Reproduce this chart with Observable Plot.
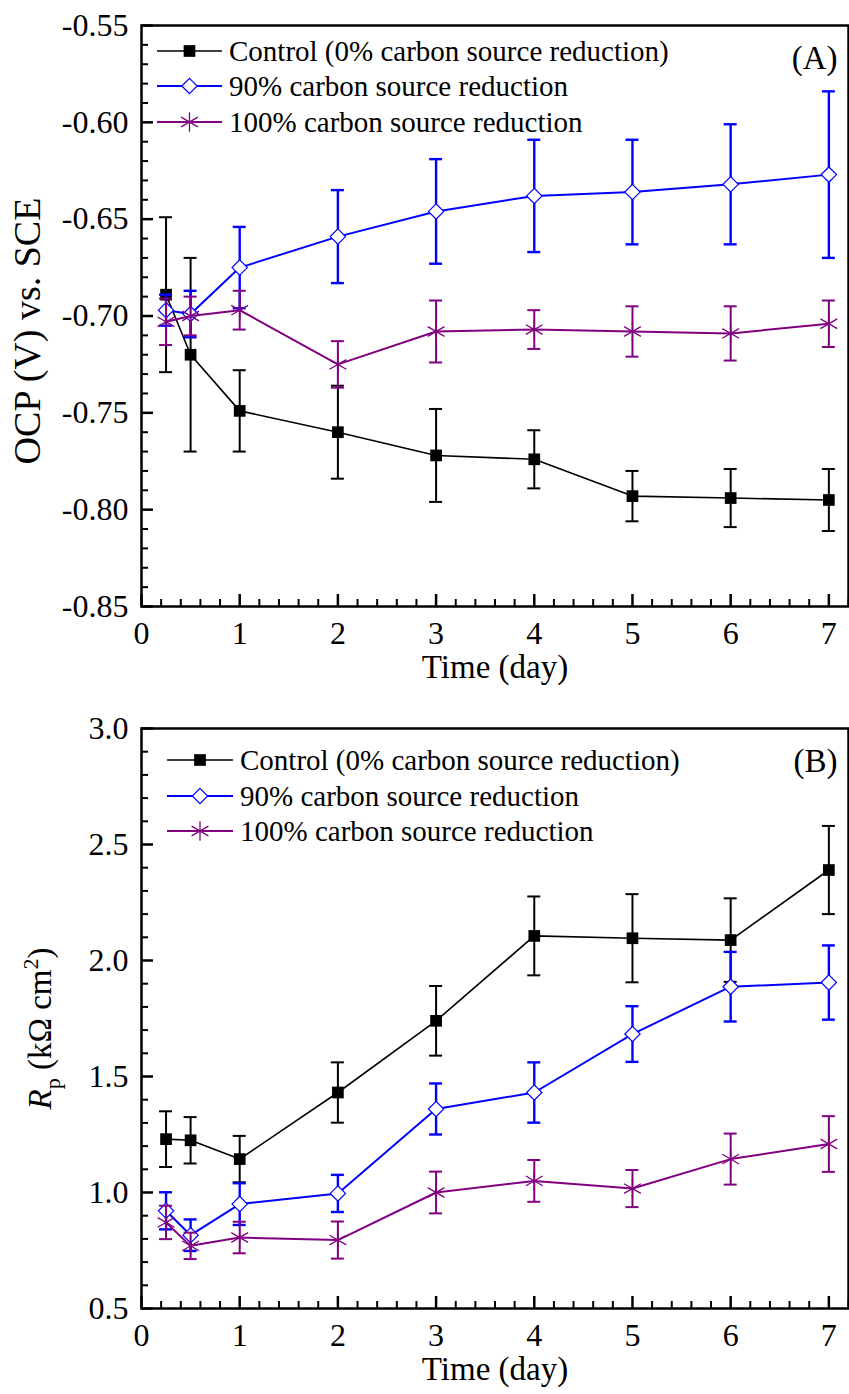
<!DOCTYPE html>
<html><head><meta charset="utf-8">
<script src="https://cdn.jsdelivr.net/npm/d3@7"></script>
<script src="https://cdn.jsdelivr.net/npm/@observablehq/plot@0.6"></script>
<style>
body{margin:0;background:#fff;}
#wrap{position:relative;width:849px;font-family:"Liberation Serif","Times New Roman",serif;color:#000;}
#wrap svg.plot{display:block;}
#wrap svg text{font-family:"Liberation Serif","Times New Roman",serif;}
.leg{position:absolute;display:flex;align-items:center;font-size:29px;white-space:nowrap;height:36px;line-height:36px;}
</style></head><body><div id="wrap"></div>
<script>
// ---------- data ----------
const days = [0.25, 0.5, 1, 2, 3, 4, 5, 6, 7];
const seriesNames = ["Control (0% carbon source reduction)", "90% carbon source reduction", "100% carbon source reduction"];

// Panel A: OCP (V) vs. SCE
const ocpControl    = [-0.689, -0.720, -0.749, -0.760, -0.772, -0.774, -0.793, -0.794, -0.795];
const ocpControlErr = [0.040, 0.050, 0.021, 0.024, 0.024, 0.015, 0.013, 0.015, 0.016];
const ocp90         = [-0.697, -0.699, -0.675, -0.659, -0.646, -0.638, -0.636, -0.632, -0.627];
const ocp90Err      = [0.008, 0.012, 0.021, 0.024, 0.027, 0.029, 0.027, 0.031, 0.043];
const ocp100        = [-0.703, -0.700, -0.697, -0.725, -0.708, -0.707, -0.708, -0.709, -0.704];
const ocp100Err     = [0.012, 0.010, 0.010, 0.012, 0.016, 0.010, 0.013, 0.014, 0.012];

// Panel B: Rp (kΩ cm²)
const rpControl    = [1.230, 1.225, 1.144, 1.431, 1.740, 2.106, 2.096, 2.088, 2.390];
const rpControlErr = [0.12, 0.10, 0.10, 0.13, 0.15, 0.17, 0.19, 0.18, 0.19];
const rp90         = [0.921, 0.816, 0.950, 0.996, 1.360, 1.431, 1.683, 1.887, 1.905];
const rp90Err      = [0.080, 0.068, 0.090, 0.080, 0.110, 0.130, 0.120, 0.150, 0.160];
const rp100        = [0.871, 0.770, 0.806, 0.795, 1.000, 1.050, 1.017, 1.144, 1.209];
const rp100Err     = [0.072, 0.057, 0.068, 0.080, 0.090, 0.090, 0.080, 0.110, 0.120];

const xTicks = [0, 1, 2, 3, 4, 5, 6, 7];
const yTicksA = [-0.85, -0.80, -0.75, -0.70, -0.65, -0.60, -0.55];
const yTicksB = [0.5, 1.0, 1.5, 2.0, 2.5, 3.0];

// ---------- styles ----------
const FONT = '"Liberation Serif","Times New Roman",serif';
const styles = [
  {color: "#000000", symbol: d3.symbolSquare,   r: 6.6, fill: "#000000", stroke: "none",    sw: 0,   lw: 1.6, ew: 2.0},
  {color: "#0000ff", symbol: d3.symbolDiamond2, r: 6.9, fill: "#ffffff", stroke: "#0000ff", sw: 1.2, lw: 2.0, ew: 2.4},
  {color: "#800080", symbol: d3.symbolAsterisk, r: 9.2, fill: "none",    stroke: "#800080", sw: 1.3, lw: 2.0, ew: 2.0}
];

const xMinor = d3.range(0, 7.21, 0.2).filter(v => Math.abs(v - Math.round(v)) > 1e-6);

function makePanel(cfg) {
  const marks = [];
  cfg.series.forEach((s, k) => {
    const st = styles[k];
    const rows = days.map((d, i) => ({day: d, v: s.values[i], lo: s.values[i] - s.errs[i], hi: s.values[i] + s.errs[i]}));
    marks.push(Plot.line(rows, {x: "day", y: "v", stroke: st.color, strokeWidth: st.lw}));
    marks.push(Plot.ruleX(rows, {x: "day", y1: "lo", y2: "hi", stroke: st.color, strokeWidth: st.ew}));
    marks.push(Plot.ruleY(rows, {y: "hi", x1: "day", x2: "day", insetLeft: -6.5, insetRight: -6.5, stroke: st.color, strokeWidth: st.ew}));
    marks.push(Plot.ruleY(rows, {y: "lo", x1: "day", x2: "day", insetLeft: -6.5, insetRight: -6.5, stroke: st.color, strokeWidth: st.ew}));
    marks.push(Plot.dot(rows, {x: "day", y: "v", symbol: st.symbol, r: st.r, fill: st.fill, stroke: st.stroke, strokeWidth: st.sw}));
  });
  return Plot.plot({
    width: 849,
    height: cfg.height,
    marginTop: cfg.mt,
    marginBottom: cfg.mb,
    marginLeft: 141,
    marginRight: 1,
    style: {fontFamily: FONT, fontSize: "32px", background: "#fff", overflow: "visible"},
    x: {domain: [0, 7.2], axis: null},
    y: {domain: cfg.yDomain, axis: null},
    marks: [
      ...marks,
      Plot.axisX(xTicks, {anchor: "bottom", tickSize: -12, tickPadding: 27, strokeWidth: 2.5, tickFormat: d => String(d), label: null, fontSize: 32, fontFamily: FONT}),
      Plot.axisX(xMinor, {anchor: "bottom", tickSize: -7, strokeWidth: 2, tickFormat: () => "", label: null}),
      Plot.axisY(cfg.yTicks, {anchor: "left", tickSize: -12, tickPadding: 25, strokeWidth: 2.5, tickFormat: cfg.yFmt, label: null, fontSize: 32, fontFamily: FONT}),
      Plot.axisY(cfg.yMinor, {anchor: "left", tickSize: -7, strokeWidth: 2, tickFormat: () => "", label: null}),
      Plot.frame({stroke: "#000", strokeWidth: 2.5}),
      Plot.text(["Time (day)"], {frameAnchor: "bottom", textAnchor: "middle", lineAnchor: "middle", dy: 61, fontSize: 33, fontFamily: FONT}),
      Plot.text([cfg.yLabel], {frameAnchor: "left", textAnchor: "middle", lineAnchor: "middle", rotate: -90, dx: cfg.yLabelDx, dy: cfg.yLabelDy, fontSize: cfg.yLabelSize, fontFamily: FONT}),
      Plot.text([cfg.tag], {frameAnchor: "top-right", textAnchor: "end", lineAnchor: "top", dx: -11, dy: 20, fontSize: 33, fontFamily: FONT})
    ]
  });
}

const wrap = document.getElementById("wrap");

const plotA = makePanel({
  height: 700, mt: 25, mb: 94,
  yDomain: [-0.85, -0.55], yTicks: yTicksA,
  yMinor: d3.range(-85, -54, 1).filter(v => v % 5 !== 0).map(v => v / 100),
  yFmt: d => d.toFixed(2),
  series: [
    {name: seriesNames[0], values: ocpControl, errs: ocpControlErr},
    {name: seriesNames[1], values: ocp90, errs: ocp90Err},
    {name: seriesNames[2], values: ocp100, errs: ocp100Err}
  ],
  yLabel: "OCP (V) vs. SCE", yLabelDx: -114, yLabelDy: 15, yLabelSize: 38,
  tag: "(A)"
});
plotA.classList.add("plot");
wrap.appendChild(plotA);

const plotB = makePanel({
  height: 694, mt: 28, mb: 86,
  yDomain: [0.5, 3.0], yTicks: yTicksB,
  yMinor: d3.range(5, 31, 1).filter(v => v % 5 !== 0).map(v => v / 10),
  yFmt: d => d.toFixed(1),
  series: [
    {name: seriesNames[0], values: rpControl, errs: rpControlErr},
    {name: seriesNames[1], values: rp90, errs: rp90Err},
    {name: seriesNames[2], values: rp100, errs: rp100Err}
  ],
  yLabel: "Rp (kΩ cm2)", yLabelDx: -101, yLabelDy: 10, yLabelSize: 33,
  tag: "(B)"
});
plotB.classList.add("plot");
wrap.appendChild(plotB);

// rich label for Rp
plotB.querySelectorAll("text").forEach(t => {
  if (t.textContent === "Rp (kΩ cm2)") {
    t.innerHTML = '<tspan font-style="italic">R</tspan><tspan dy="9" font-size="22">p</tspan><tspan dy="-9"> (kΩ cm</tspan><tspan dy="-13" font-size="22">2</tspan><tspan dy="13">)</tspan>';
  }
});

// ---------- legends (inside plot frames) ----------
function addLegend(rowsY, x0, x1, textX) {
  seriesNames.forEach((name, k) => {
    const st = styles[k];
    const row = document.createElement("div");
    row.className = "leg";
    row.style.left = x0 + "px";
    row.style.top = (rowsY[k] - 18) + "px";
    const w = x1 - x0;
    const sym = d3.symbol(st.symbol, Math.PI * st.r * st.r)();
    row.innerHTML =
      `<svg width="${w}" height="36" style="overflow:visible"><line x1="0" x2="${w}" y1="18" y2="18" stroke="${st.color}" stroke-width="${st.lw}"/>` +
      `<path transform="translate(${w / 2},18)" d="${sym}" fill="${st.fill}" stroke="${st.stroke}" stroke-width="${st.sw}"/></svg>` +
      `<span style="margin-left:${textX - x1}px">${name}</span>`;
    wrap.appendChild(row);
  });
}
addLegend([50.7, 86, 122.3], 157, 222, 229);
addLegend([760.3, 796, 831], 167, 233, 240);
</script>
</body></html>
